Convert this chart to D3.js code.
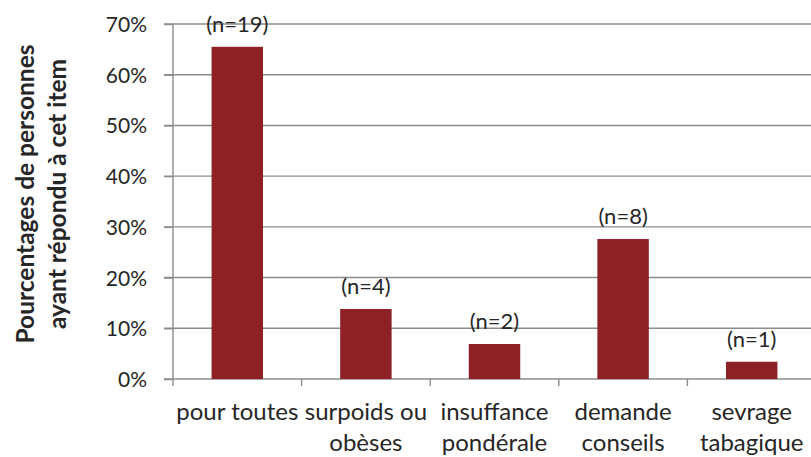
<!DOCTYPE html>
<html>
<head>
<meta charset="utf-8">
<style>
body { margin: 0; background: #fff; }
text { font-family: Lato, "Open Sans", sans-serif; fill: #262626; }
.grid line { stroke: #8c8c8c; stroke-width: 1.4; }
.axis line { stroke: #8c8c8c; stroke-width: 1.4; fill: none; }
</style>
</head>
<body>
<script src="https://cdn.jsdelivr.net/npm/d3@7"></script>
<script>
// categories (two text lines each) and values
var categories = ["pour toutes", "surpoids ou", "insuffance", "demande", "sevrage"];
var catLine2 = ["", "obèses", "pondérale", "conseils", "tabagique"];
var counts = [19, 4, 2, 8, 1];
var percents = [65.5, 13.8, 6.9, 27.6, 3.4];
var yTicks = [0, 10, 20, 30, 40, 50, 60, 70];

var width = 811, height = 457;
var plotLeft = 173, plotRight = 816, plotTop = 24, plotBottom = 379;

var svg = d3.select("body").append("svg")
    .attr("width", width)
    .attr("height", height);

var x = d3.scaleBand()
    .domain(categories)
    .range([plotLeft, plotRight])
    .paddingInner(0.6)
    .paddingOuter(0.3);

var y = d3.scaleLinear()
    .domain([0, 70])
    .range([plotBottom, plotTop]);

// horizontal gridlines with ticks
svg.append("g")
    .attr("class", "grid")
    .selectAll("line")
    .data(yTicks)
    .enter()
    .append("line")
    .attr("x1", plotLeft - 9)
    .attr("x2", width)
    .attr("y1", function(d) { return y(d); })
    .attr("y2", function(d) { return y(d); });

// y axis labels
var yAxis = d3.axisLeft(y).tickValues(yTicks)
    .tickFormat(function(d) { return d + "%"; })
    .tickSize(9).tickPadding(17);
var ga = svg.append("g")
    .attr("class", "axis")
    .attr("transform", "translate(" + plotLeft + ",0)")
    .call(yAxis);
ga.select(".domain").remove();
ga.selectAll("text")
    .style("font-size", "21px")
    .style("font-family", "Lato, sans-serif")
    .attr("fill", "#262626")
    .attr("dy", "0.36em");

// vertical axis line
svg.append("line")
    .attr("x1", plotLeft).attr("x2", plotLeft)
    .attr("y1", plotTop).attr("y2", plotBottom + 7)
    .attr("stroke", "#8c8c8c").attr("stroke-width", 1.4);

// category separators below axis
var step = x.step();
svg.append("g")
    .selectAll("line")
    .data(categories.slice(1))
    .enter()
    .append("line")
    .attr("x1", function(d) { return x(d) - x.paddingOuter() * step; })
    .attr("x2", function(d) { return x(d) - x.paddingOuter() * step; })
    .attr("y1", plotBottom)
    .attr("y2", plotBottom + 7)
    .attr("stroke", "#8c8c8c").attr("stroke-width", 1.4);

// bars
svg.selectAll("rect.bar")
    .data(percents)
    .enter()
    .append("rect")
    .attr("class", "bar")
    .attr("x", function(d, i) { return x(categories[i]); })
    .attr("y", function(d) { return y(d); })
    .attr("width", x.bandwidth())
    .attr("height", function(d) { return plotBottom - y(d); })
    .attr("fill", "#8e2125");

// n labels
svg.selectAll("text.nlab")
    .data(percents)
    .enter()
    .append("text")
    .attr("class", "nlab")
    .attr("x", function(d, i) { return x(categories[i]) + x.bandwidth() / 2; })
    .attr("y", function(d) { return y(d) - 15; })
    .attr("text-anchor", "middle")
    .style("font-size", "22px")
    .text(function(d, i) { return "(n=" + counts[i] + ")"; });

// category labels
categories.forEach(function(c, i) {
    var cx = x(c) + x.bandwidth() / 2;
    svg.append("text")
        .attr("x", cx).attr("y", 420)
        .attr("text-anchor", "middle")
        .style("font-size", "24px")
        .text(c);
    svg.append("text")
        .attr("x", cx).attr("y", 451)
        .attr("text-anchor", "middle")
        .style("font-size", "24px")
        .text(catLine2[i]);
});

// axis title
var title = svg.append("text")
    .attr("transform", "translate(34,194) rotate(-90)")
    .attr("text-anchor", "middle")
    .style("font-size", "24.5px")
    .style("font-weight", "bold")
    .attr("fill", "#111");
title.append("tspan").attr("x", 0).attr("y", 0).text("Pourcentages de personnes");
title.append("tspan").attr("x", 0).attr("y", 32).text("ayant répondu à cet item");
</script>
</body>
</html>
